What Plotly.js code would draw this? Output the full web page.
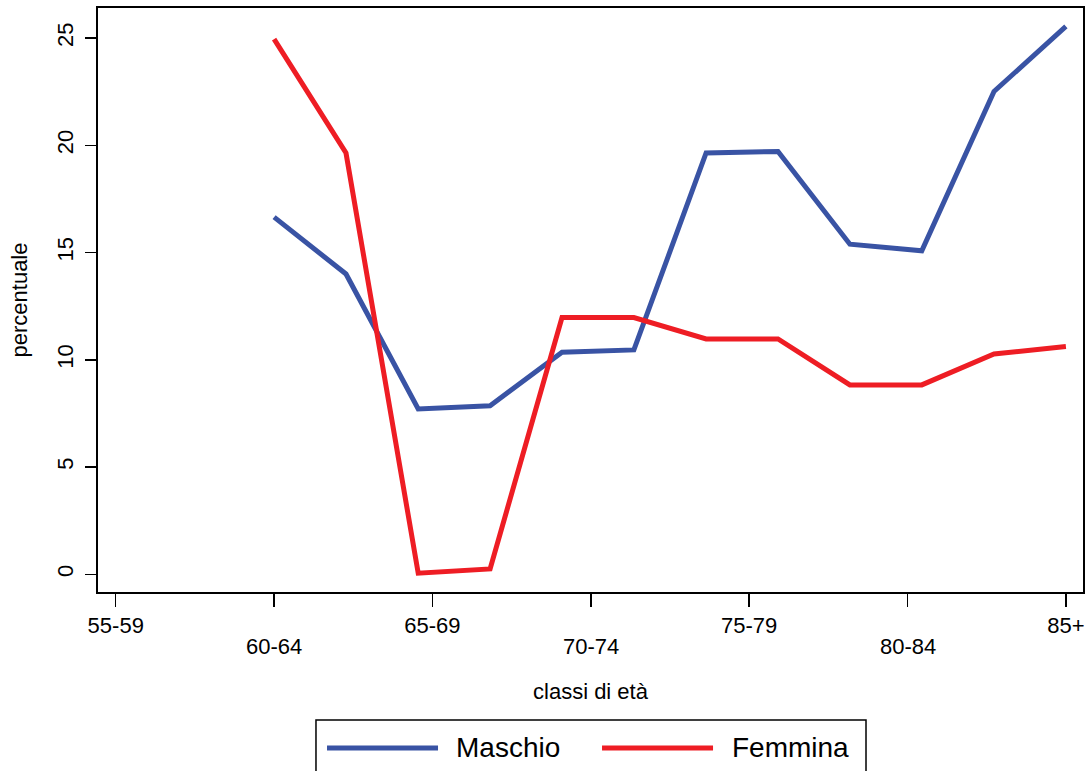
<!DOCTYPE html>
<html>
<head>
<meta charset="utf-8">
<script src="https://cdn.plot.ly/plotly-3.0.1.min.js"></script>
<style>html,body{margin:0;padding:0;background:#fff;}#chart{width:1089px;height:771px;}</style>
</head>
<body>
<div id="chart"></div>
<script>
// Data
var ageX = [60, 62.27, 64.55, 66.82, 69.09, 71.36, 73.64, 75.91, 78.18, 80.45, 82.73, 85];
var maschio = [16.65, 14.0, 7.71, 7.86, 10.35, 10.46, 19.64, 19.71, 15.39, 15.08, 22.51, 25.54];
var femmina = [24.95, 19.64, 0.05, 0.25, 11.97, 11.97, 10.97, 10.97, 8.83, 8.83, 10.27, 10.62];
var tickPos = [55, 60, 65, 70, 75, 80, 85];
var tickLabels = ['55-59', '60-64', '65-69', '70-74', '75-79', '80-84', '85+'];
var seriesNames = ['Maschio', 'Femmina'];
var seriesColors = ['#3953a4', '#ee1d24'];

var FONT = '"Liberation Sans", Arial, sans-serif';

var traces = [
  {x: ageX, y: maschio, type: 'scatter', mode: 'lines', name: seriesNames[0],
   line: {color: seriesColors[0], width: 5}},
  {x: ageX, y: femmina, type: 'scatter', mode: 'lines', name: seriesNames[1],
   line: {color: seriesColors[1], width: 5}}
];

// alternate rows of tick labels: upper row as axis tick labels, lower row as annotations
var upperText = tickLabels.map(function(t, i){ return i % 2 === 0 ? t : ''; });
var annotations = [];
tickLabels.forEach(function(t, i){
  if (i % 2 === 1) {
    annotations.push({x: tickPos[i], y: 0, xref: 'x', yref: 'paper', text: t,
      showarrow: false, xanchor: 'center', yanchor: 'top', yshift: -40,
      font: {family: FONT, size: 22, color: '#000'}});
  }
});

// R-style legend box below the plot (paper coordinates)
var shapes = [
  {type: 'rect', xref: 'paper', yref: 'paper', x0: 0.2213, x1: 0.7797, y0: -0.2192, y1: -0.33,
   line: {color: '#000', width: 1.5}, fillcolor: 'rgba(0,0,0,0)'}
];
var legX = [0.2325, 0.5117];
var legTextX = [0.3614, 0.6416];
var legY = -0.2671;
seriesNames.forEach(function(n, i){
  shapes.push({type: 'line', xref: 'paper', yref: 'paper', x0: legX[i], x1: legX[i] + 0.1127,
    y0: legY, y1: legY, line: {color: seriesColors[i], width: 5}});
  annotations.push({x: legTextX[i], y: legY, xref: 'paper', yref: 'paper', text: n,
    showarrow: false, xanchor: 'left', yanchor: 'middle', yshift: 0,
    font: {family: FONT, size: 28, color: '#000'}});
});

var layout = {
  width: 1089, height: 771,
  margin: {l: 98, r: 6, t: 8, b: 179},
  paper_bgcolor: '#fff', plot_bgcolor: '#fff',
  font: {family: FONT, size: 22, color: '#000'},
  showlegend: false,
  xaxis: {
    range: [54.44, 85.54], tickmode: 'array', tickvals: tickPos, ticktext: upperText,
    ticks: 'outside', ticklen: 13, tickwidth: 1.5, tickcolor: '#000',
    showline: true, mirror: true, linecolor: '#000', linewidth: 2,
    showgrid: false, zeroline: false, ticklabelstandoff: 0, automargin: false,
    tickfont: {family: FONT, size: 22, color: '#000'},
    title: {text: 'classi di età', font: {family: FONT, size: 22, color: '#000'}, standoff: 46}
  },
  yaxis: {
    range: [-0.826, 26.4], tickmode: 'linear', tick0: 0, dtick: 5,
    ticks: 'outside', ticklen: 11, tickwidth: 1.5, tickcolor: '#000',
    showline: true, mirror: true, linecolor: '#000', linewidth: 2,
    showgrid: false, zeroline: false, tickangle: -90, ticklabelstandoff: 3, automargin: false,
    tickfont: {family: FONT, size: 22, color: '#000'},
    title: {text: 'percentuale', font: {family: FONT, size: 22, color: '#000'}, standoff: 20}
  },
  shapes: shapes,
  annotations: annotations
};

Plotly.newPlot('chart', traces, layout, {displayModeBar: false, staticPlot: true});
</script>
</body>
</html>
